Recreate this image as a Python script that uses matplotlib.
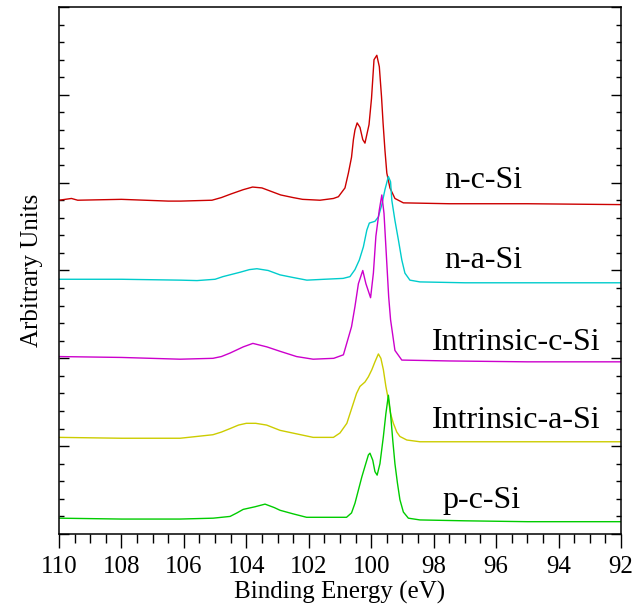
import matplotlib
matplotlib.use("Agg")
import matplotlib.pyplot as plt
from matplotlib.ticker import MultipleLocator, NullFormatter

plt.rcParams['font.family'] = ['Liberation Serif', 'DejaVu Serif']

# spectra: binding energy (eV) and stacked intensity (arb.)
nc_E = [110.0, 109.6, 109.4, 108.0, 106.5, 106.1, 105.1, 104.8, 104.5, 104.1, 103.8,
        103.5, 103.2, 102.9, 102.5, 102.2, 101.64, 101.21, 101.05, 100.84, 100.73,
        100.63, 100.57, 100.52, 100.45, 100.36, 100.27, 100.20, 100.07, 99.99, 99.91,
        99.82, 99.74, 99.67, 99.62, 99.56, 99.50, 99.40, 99.24, 98.97, 97.5, 95.0, 92.0]
nc_I = [3.80, 3.82, 3.80, 3.81, 3.79, 3.79, 3.80, 3.83, 3.87, 3.92, 3.95,
        3.94, 3.90, 3.86, 3.83, 3.81, 3.80, 3.82, 3.84, 3.94, 4.11,
        4.29, 4.49, 4.60, 4.68, 4.63, 4.49, 4.45, 4.66, 4.96, 5.40,
        5.45, 5.32, 4.98, 4.68, 4.37, 4.11, 3.94, 3.82, 3.77, 3.76, 3.76, 3.75]

na_E = [110.0, 108.0, 106.1, 105.58, 105.0, 104.75, 104.2, 103.9, 103.66, 103.3, 102.92,
        102.5, 102.06, 101.5, 100.90, 100.68, 100.52, 100.38, 100.25, 100.14, 100.06,
        99.88, 99.77, 99.66, 99.56, 99.45, 99.38, 99.34, 99.24, 99.13, 99.02,
        98.92, 98.76, 98.44, 97.0, 95.0, 92.0]
na_I = [2.90, 2.90, 2.89, 2.885, 2.90, 2.93, 2.98, 3.01, 3.02, 3.00, 2.95,
        2.92, 2.89, 2.90, 2.91, 2.93, 3.01, 3.12, 3.27, 3.46, 3.54,
        3.56, 3.61, 3.75, 3.92, 4.07, 4.01, 3.80, 3.57, 3.35, 3.12,
        2.97, 2.89, 2.87, 2.86, 2.86, 2.86]

ic_E = [110.0, 108.0, 106.12, 105.07, 104.8, 104.52, 104.1, 103.79, 103.34, 102.92, 102.39,
        101.86, 101.2, 100.89, 100.63, 100.52, 100.41, 100.27, 100.17, 100.02, 99.93,
        99.85, 99.74, 99.66, 99.59, 99.50, 99.44, 99.38, 99.24, 99.02, 97.5,
        95.0, 92.0]
ic_I = [2.02, 2.01, 1.99, 2.00, 2.02, 2.06, 2.13, 2.17, 2.13, 2.08, 2.02,
        1.99, 2.00, 2.04, 2.36, 2.59, 2.85, 3.00, 2.85, 2.69, 2.97,
        3.39, 3.69, 3.86, 3.65, 3.08, 2.70, 2.44, 2.09, 1.98, 1.97,
        1.96, 1.96]

ia_E = [110.0, 108.0, 106.12, 105.07, 104.8, 104.52, 104.25, 104.0, 103.7, 103.35, 102.92,
        102.39, 101.86, 101.21, 101.00, 100.78, 100.57, 100.47, 100.36, 100.20, 100.09,
        99.98, 99.88, 99.77, 99.69, 99.61, 99.53, 99.45, 99.38, 99.29, 99.18,
        99.08, 98.86, 98.44, 97.0, 95.0, 92.0]
ia_I = [1.10, 1.09, 1.09, 1.13, 1.16, 1.20, 1.24, 1.26, 1.26, 1.24, 1.18,
        1.14, 1.10, 1.10, 1.15, 1.26, 1.49, 1.60, 1.68, 1.73, 1.79,
        1.87, 1.96, 2.05, 2.00, 1.87, 1.68, 1.53, 1.37, 1.26, 1.16,
        1.11, 1.07, 1.05, 1.05, 1.05, 1.05]

pc_E = [110.0, 108.0, 106.12, 105.06, 104.52, 104.30, 104.10, 103.72, 103.40, 103.1, 102.92,
        102.51, 102.07, 101.4, 100.79, 100.63, 100.52, 100.41, 100.30, 100.20, 100.09,
        100.04, 99.95, 99.88, 99.81, 99.72, 99.61, 99.53, 99.45, 99.38, 99.31,
        99.24, 99.16, 99.08, 98.97, 98.81, 98.44, 97.0, 95.0, 92.0]
pc_I = [0.18, 0.17, 0.17, 0.18, 0.20, 0.24, 0.28, 0.31, 0.34, 0.30, 0.27,
        0.23, 0.19, 0.19, 0.19, 0.24, 0.35, 0.50, 0.65, 0.77, 0.90,
        0.92, 0.84, 0.71, 0.67, 0.80, 1.11, 1.37, 1.58, 1.37, 1.07,
        0.80, 0.58, 0.39, 0.25, 0.18, 0.16, 0.15, 0.14, 0.14]

names = ['n-c-Si', 'n-a-Si', 'Intrinsic-c-Si', 'Intrinsic-a-Si', 'p-c-Si']
energies = [nc_E, na_E, ic_E, ia_E, pc_E]
intens = [nc_I, na_I, ic_I, ia_I, pc_I]
colors = ['#cc0000', '#00cccc', '#cc00cc', '#cccc00', '#00cc00']
label_pos = [(97.66, 3.94), (97.66, 3.03), (98.05, 2.09), (98.05, 1.21), (97.72, 0.30)]

fig = plt.figure(figsize=(6.39, 6.13), dpi=100)
ax = fig.add_axes([0.0923, 0.1289, 0.8795, 0.8597])

for E, I, c in zip(energies, intens, colors):
    ax.plot(E, I, color=c, lw=1.0)

for name, (x, y) in zip(names, label_pos):
    ax.text(x, y, name, fontsize=23, ha='left', va='baseline')

ax.set_xlim(110, 92)
ax.set_ylim(0, 6)
ax.xaxis.set_major_locator(MultipleLocator(2))
ax.xaxis.set_minor_locator(MultipleLocator(0.5))
ax.yaxis.set_major_locator(MultipleLocator(1))
ax.yaxis.set_minor_locator(MultipleLocator(0.2))
ax.yaxis.set_major_formatter(NullFormatter())

ax.tick_params(axis='x', which='major', direction='out', length=10, width=1.0, labelsize=18, pad=6)
ax.tick_params(axis='x', which='minor', direction='out', length=6.5, width=1.0)
ax.tick_params(axis='y', which='major', direction='in', length=7, width=1.0, left=True, right=True)
ax.tick_params(axis='y', which='minor', direction='in', length=3.5, width=1.0, left=True, right=True)

for s in ax.spines.values():
    s.set_linewidth(1.1)

ax.set_xlabel('Binding Energy (eV)', fontsize=18, labelpad=2)
ax.set_ylabel('Arbitrary Units', fontsize=18, labelpad=8)

fig.savefig('out.png', dpi=100)
